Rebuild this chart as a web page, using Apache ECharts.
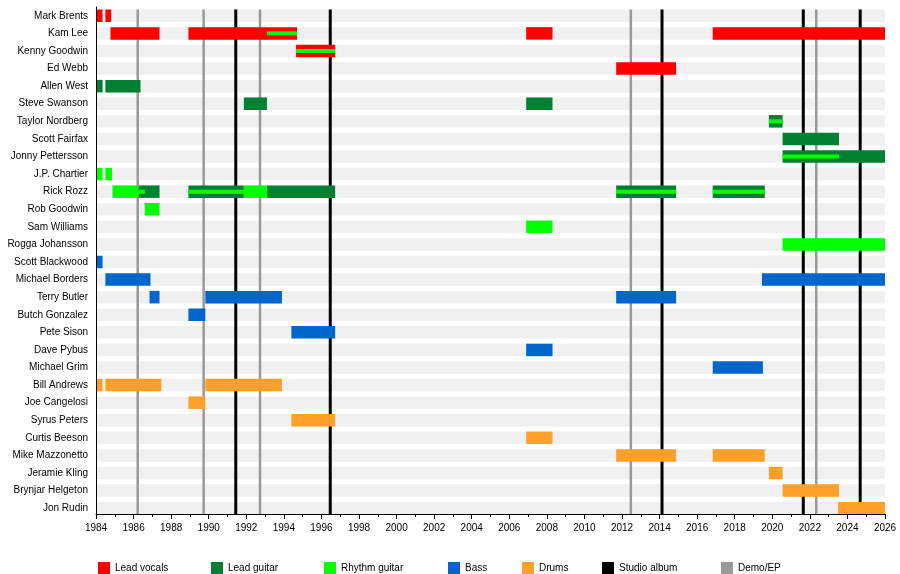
<!DOCTYPE html>
<html>
<head>
<meta charset="utf-8">
<script src="https://cdn.jsdelivr.net/npm/echarts@6/dist/echarts.min.js"></script>
<style>
html,body{margin:0;padding:0;background:#fff;}
#chart{width:900px;height:574px;}
</style>
</head>
<body>
<div id="chart"></div>
<script>
// ---- Data ----
const members = ['Mark Brents','Kam Lee','Kenny Goodwin','Ed Webb','Allen West','Steve Swanson','Taylor Nordberg','Scott Fairfax','Jonny Pettersson','J.P. Chartier','Rick Rozz','Rob Goodwin','Sam Williams','Rogga Johansson','Scott Blackwood','Michael Borders','Terry Butler','Butch Gonzalez','Pete Sison','Dave Pybus','Michael Grim','Bill Andrews','Joe Cangelosi','Syrus Peters','Curtis Beeson','Mike Mazzonetto','Jeramie Kling','Brynjar Helgeton','Jon Rudin'];

const leadVocals = [
  ['Mark Brents',1984,1984.35],['Mark Brents',1984.5,1984.81],
  ['Kam Lee',1984.77,1987.38],['Kam Lee',1988.92,1994.7],['Kam Lee',2006.9,2008.3],['Kam Lee',2016.83,2026],
  ['Kenny Goodwin',1994.65,1996.73],
  ['Ed Webb',2011.69,2014.88]
];
const leadGuitar = [
  ['Allen West',1984,1984.35],['Allen West',1984.5,1986.37],
  ['Steve Swanson',1991.87,1993.1],['Steve Swanson',2006.9,2008.3],
  ['Taylor Nordberg',2019.82,2020.55],
  ['Scott Fairfax',2020.55,2023.55],
  ['Jonny Pettersson',2020.55,2026],
  ['Rick Rozz',1986.26,1987.38],['Rick Rozz',1988.92,1991.87],['Rick Rozz',1993.1,1996.73],['Rick Rozz',2011.69,2014.88],['Rick Rozz',2016.83,2019.6]
];
const rhythmGuitar = [
  ['J.P. Chartier',1984,1984.35],['J.P. Chartier',1984.5,1984.85],
  ['Rick Rozz',1984.88,1986.26],['Rick Rozz',1991.87,1993.1],
  ['Rob Goodwin',1986.6,1987.38],
  ['Sam Williams',2006.9,2008.3],
  ['Rogga Johansson',2020.55,2026]
];
const rhythmStripes = [
  ['Kam Lee',1993.1,1994.7],
  ['Kenny Goodwin',1994.65,1996.73],
  ['Taylor Nordberg',2019.82,2020.55],
  ['Jonny Pettersson',2020.55,2023.55],
  ['Rick Rozz',1986.26,1986.6],['Rick Rozz',1988.92,1991.87],['Rick Rozz',2011.69,2014.88],['Rick Rozz',2016.83,2019.6]
];
const bass = [
  ['Scott Blackwood',1984,1984.35],
  ['Michael Borders',1984.5,1986.9],['Michael Borders',2019.45,2026],
  ['Terry Butler',1986.85,1987.38],['Terry Butler',1989.82,1993.9],['Terry Butler',2011.69,2014.88],
  ['Butch Gonzalez',1988.92,1989.82],
  ['Pete Sison',1994.4,1996.73],
  ['Dave Pybus',2006.9,2008.3],
  ['Michael Grim',2016.83,2019.5]
];
const drums = [
  ['Bill Andrews',1984,1984.35],['Bill Andrews',1984.5,1987.48],['Bill Andrews',1989.82,1993.9],
  ['Joe Cangelosi',1988.92,1989.82],
  ['Syrus Peters',1994.4,1996.73],
  ['Curtis Beeson',2006.9,2008.3],
  ['Mike Mazzonetto',2011.69,2014.88],['Mike Mazzonetto',2016.83,2019.6],
  ['Jeramie Kling',2019.82,2020.55],
  ['Brynjar Helgeton',2020.55,2023.55],
  ['Jon Rudin',2023.5,2026]
];
const studioAlbums = [1991.44,1996.47,2014.13,2021.65,2024.68];
const demos = [1986.22,1989.73,1992.73,2012.47,2022.34];
const yearStart = 1984, yearEnd = 2026;

// ---- Rendering ----
const BAR_H = 12.5, STRIPE_H = 4;
function barRender(h){
  return function(params, api){
    const y = api.value(0);
    const p0 = api.coord([api.value(1), y]);
    const p1 = api.coord([api.value(2), y]);
    return {type:'rect', shape:{x:p0[0], y:p0[1]-h/2, width:p1[0]-p0[0], height:h},
            style:{fill: api.visual('color')}};
  };
}
function lineRender(width){
  return function(params, api){
    const cs = params.coordSys;
    const x = api.coord([api.value(0), 0])[0];
    return {type:'line', shape:{x1:x, y1:cs.y+2.5, x2:x, y2:cs.y+cs.height-3},
            style:{stroke: api.visual('color'), lineWidth: width}};
  };
}
function barSeries(name, data, color, h){
  return {name:name, type:'custom', renderItem:barRender(h), data:data, z:2,
          encode:{x:[1,2], y:0}, itemStyle:{color:color}, silent:true};
}
const font = '"Liberation Sans", Arial, sans-serif';
const legendItems = [
  ['Lead vocals',93],['Lead guitar',206],['Rhythm guitar',319],['Bass',443],
  ['Drums',517],['Studio album',597],['Demo/EP',716]
];

const chart = echarts.init(document.getElementById('chart'));
chart.setOption({
  animation:false,
  backgroundColor:'#fff',
  grid:{left:96, right:15, top:7, height:510, containLabel:false, outerBoundsMode:'none'},
  legend: legendItems.map(([n,l]) => ({
    data:[{name:n, icon:'rect'}], left:l, top:557, itemWidth:12, itemHeight:12, itemGap:9,
    selectedMode:false, textStyle:{fontFamily:font, fontSize:10, color:'#000'}
  })),
  xAxis:{
    type:'value', min:yearStart, max:yearEnd, interval:2, offset:-3, z:10,
    axisLine:{show:true, lineStyle:{color:'#000', width:1}},
    axisTick:{show:true, length:5, lineStyle:{color:'#000'}},
    minorTick:{show:true, splitNumber:2, length:3, lineStyle:{color:'#000'}},
    splitLine:{show:false},
    axisLabel:{fontFamily:font, fontSize:10, color:'#000', margin:9, formatter:v=>String(v)}
  },
  yAxis:{
    type:'category', data:members, inverse:true, z:10,
    axisLine:{show:true, lineStyle:{color:'#000'}},
    axisTick:{show:false},
    axisLabel:{fontFamily:font, fontSize:10, color:'#000', margin:8, interval:0}
  },
  series:[
    barSeries('bg', members.map(m=>[m,yearStart,yearEnd]), '#f0f0f0', BAR_H),
    {name:'Demo/EP', type:'custom', renderItem:lineRender(2.5), data:demos.map(v=>[v]), z:2, encode:{x:0}, itemStyle:{color:'#999999'}, silent:true},
    {name:'Studio album', type:'custom', renderItem:lineRender(3), data:studioAlbums.map(v=>[v]), z:2, encode:{x:0}, itemStyle:{color:'#000000'}, silent:true},
    barSeries('Lead vocals', leadVocals, '#ff0000', BAR_H),
    barSeries('Lead guitar', leadGuitar, '#008033', BAR_H),
    barSeries('Rhythm guitar', rhythmGuitar, '#00ff00', BAR_H),
    barSeries('Bass', bass, '#0066cc', BAR_H),
    barSeries('Drums', drums, '#ffa02a', BAR_H),
    barSeries('rhythmStripe', rhythmStripes, '#00ff00', STRIPE_H)
  ]
});
</script>
</body>
</html>
